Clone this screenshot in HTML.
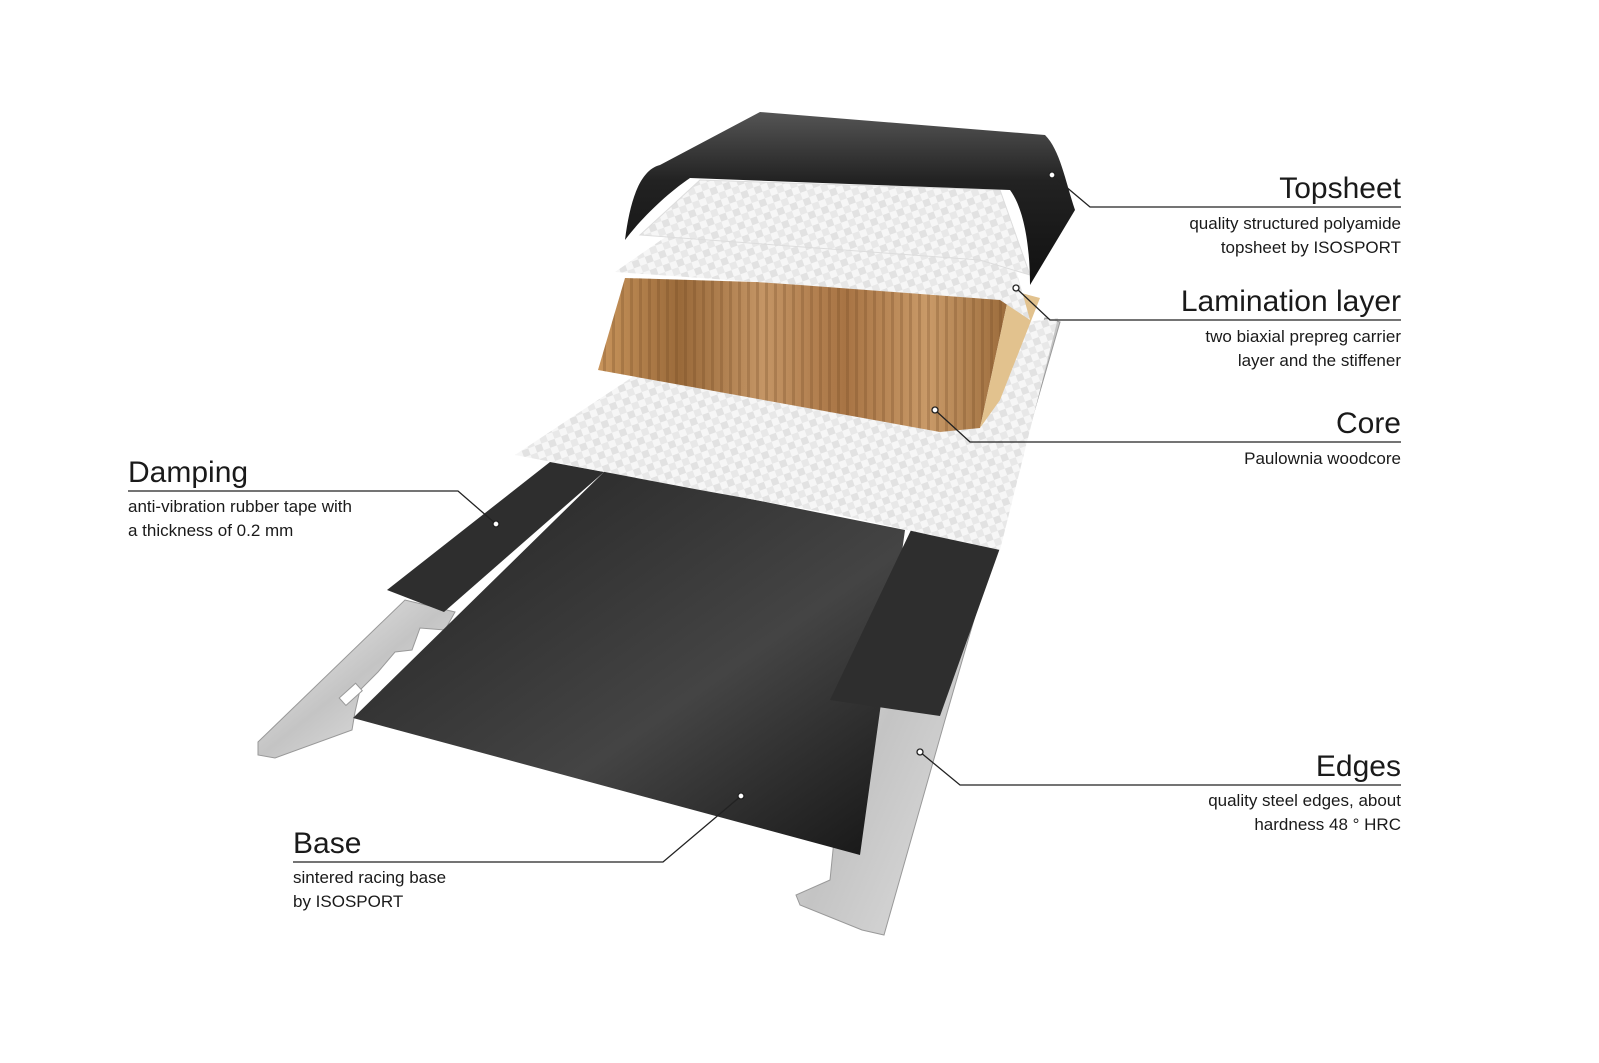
<!DOCTYPE html>
<html><head><meta charset="utf-8">
<style>
html,body{margin:0;padding:0;background:#fff;}
body{width:1599px;height:1063px;position:relative;overflow:hidden;font-family:"Liberation Sans",sans-serif;color:#1a1a1a;}
.t{position:absolute;font-size:30px;line-height:34px;white-space:nowrap;}
.s{position:absolute;font-size:17px;line-height:24px;white-space:nowrap;}
.r{text-align:right;right:198px;}
</style></head><body>
<svg width="1599" height="1063" style="position:absolute;left:0;top:0">
<defs>
<pattern id="weave" width="14" height="14" patternUnits="userSpaceOnUse" patternTransform="rotate(-20)">
<rect width="14" height="14" fill="#f6f6f6"/><rect width="7" height="7" fill="#e2e2e2"/><rect x="7" y="7" width="7" height="7" fill="#e8e8e8"/>
</pattern>
<linearGradient id="metal" x1="0" y1="0" x2="1" y2="1"><stop offset="0" stop-color="#f4f4f4"/><stop offset=".5" stop-color="#c4c4c4"/><stop offset="1" stop-color="#ececec"/></linearGradient>
<linearGradient id="base" x1="0" y1="0" x2="1" y2="1"><stop offset="0" stop-color="#222"/><stop offset=".6" stop-color="#444"/><stop offset="1" stop-color="#151515"/></linearGradient>
<linearGradient id="wood" x1="0" y1="0" x2="1" y2="0"><stop offset="0" stop-color="#c9955c"/><stop offset=".2" stop-color="#9a6a3a"/><stop offset=".4" stop-color="#c49565"/><stop offset=".6" stop-color="#a87444"/><stop offset=".8" stop-color="#c99a68"/><stop offset="1" stop-color="#9a6a3a"/></linearGradient>
<pattern id="grain" width="9" height="200" patternUnits="userSpaceOnUse"><rect width="3" height="200" fill="#6b4320" opacity=".25"/></pattern>
<linearGradient id="top" x1="0" y1="0" x2="0" y2="1"><stop offset="0" stop-color="#555"/><stop offset=".4" stop-color="#222"/><stop offset="1" stop-color="#111"/></linearGradient>
</defs>
<!-- left edge -->
<polygon points="258,742 405,600 455,612 445,630 420,628 412,650 395,652 378,672 360,690 355,712 352,730 275,758 258,755" fill="url(#metal)" stroke="#999"/>
<rect x="340" y="690" width="22" height="10" fill="#fff" stroke="#999" transform="rotate(-42 350 695)"/>
<!-- right edge -->
<polygon points="1045,318 1060,322 945,720 884,935 862,930 800,905 796,895 830,880 835,830 850,780 858,740 880,700 905,690" fill="url(#metal)" stroke="#999"/>
<!-- base -->
<polygon points="353,718 606,470 905,530 860,855" fill="url(#base)"/>
<!-- damping -->
<polygon points="387,590 550,462 604,472 444,612" fill="#2e2e2e"/>
<polygon points="830,700 912,528 1000,548 940,716" fill="#2e2e2e"/>
<!-- lower lamination -->
<polygon points="515,455 640,372 1058,318 1000,550 930,535 840,515 700,490" fill="url(#weave)"/>
<!-- core -->
<polygon points="598,370 625,278 1010,290 980,428 940,432" fill="url(#wood)"/>
<polygon points="598,370 625,278 1010,290 980,428 940,432" fill="url(#grain)"/>
<polygon points="1010,290 1040,298 1000,400 980,428" fill="#e2c28e"/>
<!-- upper lamination -->
<polygon points="615,272 690,220 1005,230 1030,320 1000,300 800,285" fill="url(#weave)"/>
<polygon points="640,235 700,180 1000,190 1030,275 980,260" fill="url(#weave)" stroke="#ddd"/>
<!-- topsheet -->
<path d="M625,240 C630,200 640,170 660,165 L760,112 L1045,135 C1060,150 1065,180 1075,210 L1030,285 C1030,250 1025,210 1010,190 L690,178 C665,195 640,220 625,240 Z" fill="url(#top)"/>
<!-- leader lines -->
<g stroke="#222" stroke-width="1.3" fill="none">
<polyline points="1052,175 1090,207 1401,207"/>
<polyline points="1016,288 1050,320 1401,320"/>
<polyline points="935,410 970,442 1401,442"/>
<polyline points="920,752 960,785 1401,785"/>
<polyline points="128,491 458,491 496,524"/>
<polyline points="293,862 663,862 741,796"/>
</g>
<g fill="#fff" stroke="#222" stroke-width="1.3">
<circle cx="1052" cy="175" r="3"/><circle cx="1016" cy="288" r="3"/><circle cx="935" cy="410" r="3"/>
<circle cx="920" cy="752" r="3"/><circle cx="496" cy="524" r="3"/><circle cx="741" cy="796" r="3"/>
</g>
</svg>
<div class="t r" style="top:172px">Topsheet</div>
<div class="s r" style="top:212px">quality structured polyamide<br>topsheet by ISOSPORT</div>
<div class="t r" style="top:285px">Lamination layer</div>
<div class="s r" style="top:325px">two biaxial prepreg carrier<br>layer and the stiffener</div>
<div class="t r" style="top:407px">Core</div>
<div class="s r" style="top:447px">Paulownia woodcore</div>
<div class="t r" style="top:750px">Edges</div>
<div class="s r" style="top:789px">quality steel edges, about<br>hardness 48 ° HRC</div>
<div class="t" style="left:128px;top:456px">Damping</div>
<div class="s" style="left:128px;top:495px">anti-vibration rubber tape with<br>a thickness of 0.2 mm</div>
<div class="t" style="left:293px;top:827px">Base</div>
<div class="s" style="left:293px;top:866px">sintered racing base<br>by ISOSPORT</div>
</body></html>
